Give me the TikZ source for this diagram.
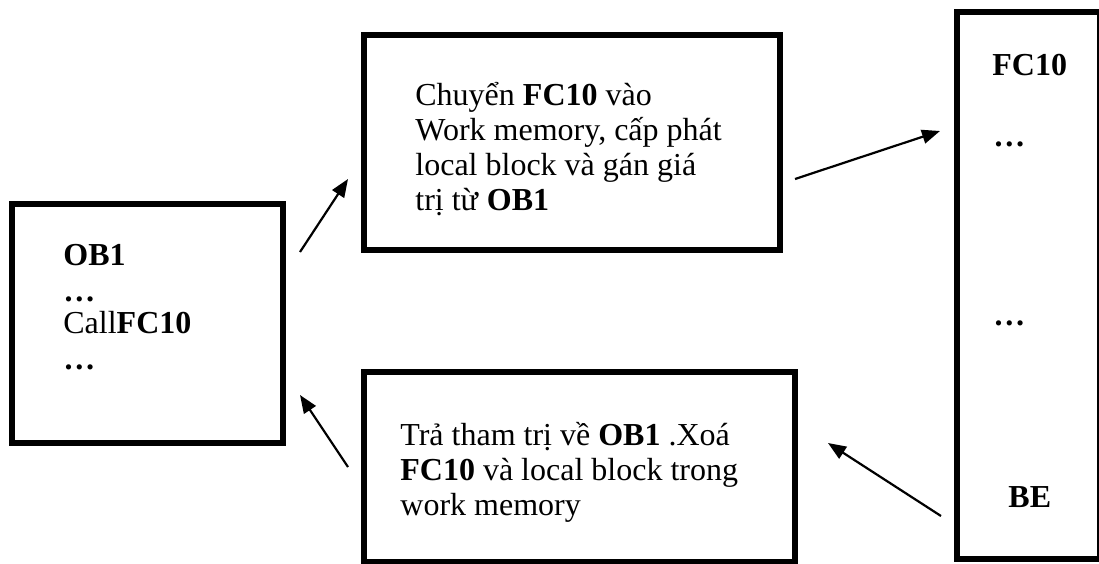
\documentclass[tikz,border=0pt]{standalone}
\usepackage{fontspec}
\setmainfont{Liberation Serif}
\usetikzlibrary{arrows.meta}
\begin{document}
\begin{tikzpicture}[x=0.5pt,y=-0.5pt,
  box/.style={draw,line width=3pt,inner sep=0pt,outer sep=0pt},
  txt/.style={anchor=base west,inner sep=0pt,font=\fontsize{16}{17.5}\selectfont},
  arr/.style={line width=1.1pt,-{Triangle[length=9pt,width=7pt]}}]
\useasboundingbox (0,0) rectangle (1099,563);
% boxes
\node[box,minimum width=135.75pt,minimum height=119.75pt] (ob) at (147.25,323.25) {};
\node[box,minimum width=208.15pt,minimum height=107.5pt] (top) at (571.85,142.5) {};
\node[box,minimum width=215.65pt,minimum height=95pt] (bot) at (579.35,466.5) {};
\node[box,minimum width=71.75pt,minimum height=273.65pt] (fc) at (1028.25,285.35) {};
% left box text
\node[txt] (ob1) at (63,265) {\textbf{OB1}};
\node[txt] (obd1) at (63,301) {\textbf{…}};
\node[txt] (obc) at (63,333) {Call\textbf{FC10}};
\node[txt] (obd2) at (63,369) {\textbf{…}};
% top box text
\node[txt] (t1) at (415,105) {Chuyển \textbf{FC10} vào};
\node[txt] (t2) at (415,140) {Work memory, cấp phát};
\node[txt] (t3) at (415,175) {local block và gán giá};
\node[txt] (t4) at (415,210) {trị từ \textbf{OB1}};
% bottom box text
\node[txt] (b1) at (400,445) {Trả tham trị về \textbf{OB1} .Xoá};
\node[txt] (b2) at (400,480) {\textbf{FC10} và local block trong};
\node[txt] (b3) at (400,515) {work memory};
% right box text
\node[txt] (f1) at (992,75) {\textbf{FC10}};
\node[txt] (f2) at (993,146) {\textbf{…}};
\node[txt] (f3) at (993,325) {\textbf{…}};
\node[txt] (f4) at (1008,507) {\textbf{BE}};
% arrows
\coordinate (a1s) at (300,252);
\coordinate (a1e) at (348,179);
\coordinate (a2s) at (348,467);
\coordinate (a2e) at (300,395);
\coordinate (a3s) at (795,179);
\coordinate (a3e) at (940,131);
\coordinate (a4s) at (941,516);
\coordinate (a4e) at (828,443);
\draw[arr] (a1s) -- (a1e);
\draw[arr] (a2s) -- (a2e);
\draw[arr] (a3s) -- (a3e);
\draw[arr] (a4s) -- (a4e);
\end{tikzpicture}
\end{document}
